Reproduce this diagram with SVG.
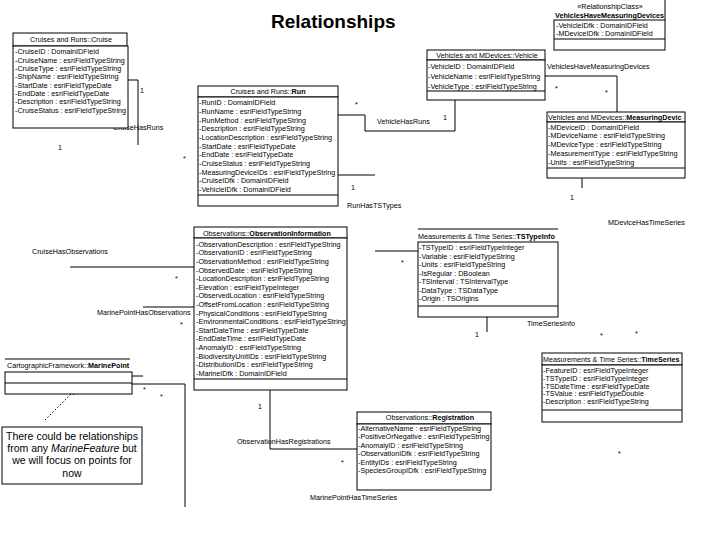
<svg xmlns="http://www.w3.org/2000/svg" width="720" height="540" viewBox="0 0 720 540">
<style>
text{font-family:"Liberation Sans",Arial,sans-serif;font-size:7.2px;fill:#000}
.title{font-size:19px;font-weight:bold}
.b{font-weight:bold}
.c{text-anchor:middle}
.note{font-size:10.5px;text-anchor:middle}
.box{fill:#fff;stroke:#000;stroke-width:1}
.ln{fill:none;stroke:#000;stroke-width:1}
.dot{fill:none;stroke:#000;stroke-width:1;stroke-dasharray:1.5 2}
</style>
<defs>
<marker id="ah" viewBox="0 0 10 10" refX="9" refY="5" markerWidth="7" markerHeight="7" orient="auto"><path d="M0,1 L10,5 L0,9 z" fill="#000"/></marker>
</defs>
<rect width="720" height="540" fill="#fff"/>
<text class="title" x="271" y="28">Relationships</text>

<g id="connectors">
<polyline class="ln" points="127,80 138,80 138,145"/>
<polyline class="ln" points="338,115 365,115 365,131 455,131 455,100"/>
<polyline class="ln" points="338,175 375,175"/>
<polyline class="ln" points="375,251 418,251"/>
<polyline class="ln" points="545,76 617,76 617,112"/>
<polyline class="ln" points="582,178 582,188"/>
<polyline class="ln" points="487,317 487,332"/>
<polyline class="ln" points="70,267 194,267"/>
<polyline class="ln" points="143,307 194,307"/>
<polyline class="ln" points="132,376 143,376"/>
<polyline class="ln" points="132,384 185,384 185,507"/>
<polyline class="ln" points="270,390 270,449 357,449"/>
<line class="dot" x1="45" y1="420" x2="76" y2="389" marker-end="url(#ah)"/>
<text x="140" y="93">1</text>
<text x="113" y="130">CruiseHasRuns</text>
<text x="58" y="150">1</text>
<text x="183" y="161">*</text>
<text x="355" y="107">*</text>
<text x="377" y="124">VehicleHasRuns</text>
<text x="443" y="120">1</text>
<text x="351" y="190">1</text>
<text x="347" y="208">RunHasTSTypes</text>
<text x="401" y="265">*</text>
<text x="547" y="69">VehiclesHaveMeasuringDevices</text>
<text x="555" y="91">*</text>
<text x="605" y="95">*</text>
<text x="570" y="200">1</text>
<text x="608" y="225">MDeviceHasTimeSeries</text>
<text x="475" y="337">1</text>
<text x="527" y="326">TimeSeriesInfo</text>
<text x="600" y="338">*</text>
<text x="635" y="336">*</text>
<text x="618" y="456">*</text>
<text x="32" y="254">CruiseHasObservations</text>
<text x="175" y="281">*</text>
<text x="97" y="315">MarinePointHasObservations</text>
<text x="180" y="327">*</text>
<text x="143" y="392">*</text>
<text x="160" y="399">*</text>
<text x="258" y="409">1</text>
<text x="237" y="444">ObservationHasRegistrations</text>
<text x="341" y="465">*</text>
<text x="310" y="500">MarinePointHasTimeSeries</text>
</g>

<g id="cruise">
<rect class="box" x="13" y="33" width="114" height="13"/>
<rect class="box" x="13" y="46" width="115" height="82"/>
<text class="c" x="71" y="42.2">Cruises and Runs::Cruise</text>
<text x="15" y="54.4">-CruiseID : DomainIDField</text>
<text x="15" y="62.7">-CruiseName : esriFieldTypeString</text>
<text x="15" y="71">-CruiseType : esriFieldTypeString</text>
<text x="15" y="79.4">-ShipName : esriFieldTypeString</text>
<text x="15" y="87.7">-StartDate : esriFieldTypeDate</text>
<text x="15" y="96">-EndDate : esriFieldTypeDate</text>
<text x="15" y="104.4">-Description : esriFieldTypeString</text>
<text x="15" y="112.7">-CruiseStatus : esriFieldTypeString</text>
</g>

<g id="run">
<rect class="box" x="198" y="86" width="140" height="11"/>
<rect class="box" x="198" y="97" width="140" height="109"/>
<line class="ln" x1="198" y1="195" x2="338" y2="195"/>
<text class="c" x="268" y="94.2">Cruises and Runs::<tspan class="b">Run</tspan></text>
<text x="199" y="105.4">-RunID : DomainIDField</text>
<text x="199" y="114.1">-RunName : esriFieldTypeString</text>
<text x="199" y="122.7">-RunMethod : esriFieldTypeString</text>
<text x="199" y="131.4">-Description : esriFieldTypeString</text>
<text x="199" y="140">-LocationDescription : esriFieldTypeString</text>
<text x="199" y="148.7">-StartDate : esriFieldTypeDate</text>
<text x="199" y="157.4">-EndDate : esriFieldTypeDate</text>
<text x="199" y="166">-CruiseStatus : esriFieldTypeString</text>
<text x="199" y="174.7">-MeasuringDeviceIDs : esriFieldTypeString</text>
<text x="199" y="183.3">-CruiseIDfk : DomainIDField</text>
<text x="199" y="192">-VehicleIDfk : DomainIDField</text>
</g>

<g id="vehicle">
<rect class="box" x="427" y="50" width="118" height="10"/>
<rect class="box" x="427" y="60" width="118" height="40"/>
<line class="ln" x1="427" y1="91" x2="545" y2="91"/>
<text class="c" x="487" y="57.7">Vehicles and MDevices::Vehicle</text>
<text x="428" y="68.7">-VehicleID : DomainIDField</text>
<text x="428" y="79.4">-VehicleName : esriFieldTypeString</text>
<text x="428" y="88.7">-VehicleType : esriFieldTypeString</text>
</g>

<g id="vehiclesHaveMeasuringDevices">
<line class="ln" x1="665" y1="0" x2="665" y2="20"/>
<rect class="box" x="554" y="20" width="111" height="30"/>
<line class="ln" x1="554" y1="39" x2="665" y2="39"/>
<text class="c" x="610" y="8.7">«RelationshipClass»</text>
<text class="b" x="555" y="17.7">VehiclesHaveMeasuringDevices</text>
<text x="556" y="27.7">-VehicleIDfk : DomainIDField</text>
<text x="556" y="35.7">-MDeviceIDfk : DomainIDField</text>
</g>

<g id="measuringDevice">
<rect class="box" x="547" y="112" width="138" height="10"/>
<rect class="box" x="547" y="122" width="138" height="56"/>
<line class="ln" x1="547" y1="168" x2="685" y2="168"/>
<text x="548" y="119.7">Vehicles and MDevices::<tspan class="b">MeasuringDevic</tspan></text>
<text x="548" y="129.7">-MDeviceID : DomainIDField</text>
<text x="548" y="138.4">-MDeviceName : esriFieldTypeString</text>
<text x="548" y="147.2">-MDeviceType : esriFieldTypeString</text>
<text x="548" y="155.9">-MeasurementType : esriFieldTypeString</text>
<text x="548" y="164.7">-Units : esriFieldTypeString</text>
</g>

<g id="observationInformation">
<rect class="box" x="194" y="227" width="153" height="11"/>
<rect class="box" x="194" y="238" width="153" height="152"/>
<line class="ln" x1="194" y1="379" x2="347" y2="379"/>
<text x="203" y="235.5">Observations::<tspan class="b">ObservationInformation</tspan></text>
<text x="196" y="246.7">-ObservationDescription : esriFieldTypeString</text>
<text x="196" y="255.3">-ObservationID : esriFieldTypeString</text>
<text x="196" y="263.9">-ObservationMethod : esriFieldTypeString</text>
<text x="196" y="272.5">-ObservedDate : esriFieldTypeString</text>
<text x="196" y="281.1">-LocationDescription : esriFieldTypeString</text>
<text x="196" y="289.7">-Elevation : esriFieldTypeInteger</text>
<text x="196" y="298.3">-ObservedLocation : esriFieldTypeString</text>
<text x="196" y="306.9">-OffsetFromLocation : esriFieldTypeString</text>
<text x="196" y="315.5">-PhysicalConditions : esriFieldTypeString</text>
<text x="196" y="324.1">-EnvironmentalConditions : esriFieldTypeString</text>
<text x="196" y="332.7">-StartDateTime : esriFieldTypeDate</text>
<text x="196" y="341.3">-EndDateTime : esriFieldTypeDate</text>
<text x="196" y="349.9">-AnomalyID : esriFieldTypeString</text>
<text x="196" y="358.5">-BiodiversityUnitIDs : esriFieldTypeString</text>
<text x="196" y="367.1">-DistributionIDs : esriFieldTypeString</text>
<text x="196" y="375.7">-MarineIDfk : DomainIDField</text>
</g>

<g id="tsTypeInfo">
<line class="ln" x1="418" y1="229" x2="558" y2="229"/>
<rect class="box" x="418" y="242" width="140" height="75"/>
<line class="ln" x1="418" y1="306" x2="558" y2="306"/>
<text x="418" y="238.7">Measurements &amp; Time Series::<tspan class="b">TSTypeInfo</tspan></text>
<text x="419" y="250.4">-TSTypeID : esriFieldTypeInteger</text>
<text x="419" y="258.8">-Variable : esriFieldTypeString</text>
<text x="419" y="267.3">-Units : esriFieldTypeString</text>
<text x="419" y="275.7">-IsRegular : DBoolean</text>
<text x="419" y="284.2">-TSInterval : TSIntervalType</text>
<text x="419" y="292.6">-DataType : TSDataType</text>
<text x="419" y="301.1">-Origin : TSOrigins</text>
</g>

<g id="marinePoint">
<line class="ln" x1="5" y1="359" x2="130" y2="359"/>
<rect class="box" x="5" y="372" width="127" height="22"/>
<line class="ln" x1="5" y1="383" x2="132" y2="383"/>
<text x="7" y="367.7">CartographicFramework::<tspan class="b">MarinePoint</tspan></text>
</g>

<g id="note">
<rect class="box" x="2" y="427" width="140" height="57"/>
<text class="note" x="72" y="440">There could be relationships</text>
<text class="note" x="72" y="452">from any <tspan font-style="italic">MarineFeature</tspan> but</text>
<text class="note" x="72" y="464">we will focus on points for</text>
<text class="note" x="72" y="477">now</text>
</g>

<g id="timeSeries">
<rect class="box" x="542" y="353" width="140" height="12"/>
<rect class="box" x="542" y="365" width="140" height="57"/>
<line class="ln" x1="542" y1="410" x2="682" y2="410"/>
<text x="543" y="361.7">Measurements &amp; Time Series::<tspan class="b">TimeSeries</tspan></text>
<text x="543" y="372.7">-FeatureID : esriFieldTypeInteger</text>
<text x="543" y="380.6">-TSTypeID : esriFieldTypeInteger</text>
<text x="543" y="388.5">-TSDateTime : esriFieldTypeDate</text>
<text x="543" y="396.4">-TSValue : esriFieldTypeDouble</text>
<text x="543" y="404.3">-Description : esriFieldTypeString</text>
</g>

<g id="registration">
<rect class="box" x="357" y="412" width="134" height="12"/>
<rect class="box" x="357" y="424" width="134" height="66"/>
<text class="c" x="430" y="420">Observations::<tspan class="b">Registration</tspan></text>
<text x="358" y="430.7">-AlternativeName : esriFieldTypeString</text>
<text x="358" y="439.2">-PositiveOrNegative : esriFieldTypeString</text>
<text x="358" y="447.7">-AnomalyID : esriFieldTypeString</text>
<text x="358" y="456.2">-ObservationIDfk : esriFieldTypeString</text>
<text x="358" y="464.7">-EntityIDs : esriFieldTypeString</text>
<text x="358" y="473.2">-SpeciesGroupIDfk : esriFieldTypeString</text>
</g>
</svg>
